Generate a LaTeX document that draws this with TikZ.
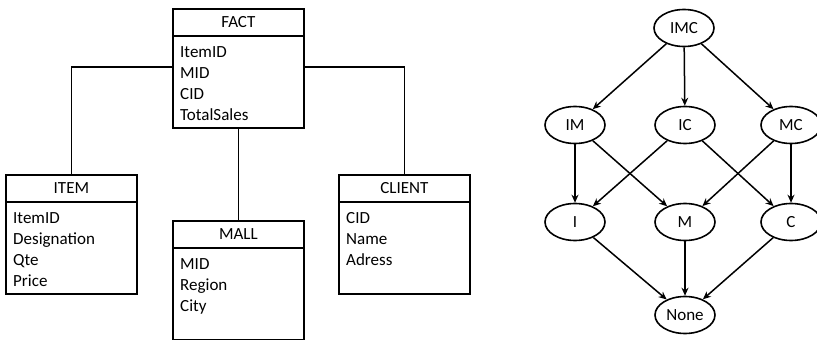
\documentclass[tikz,border=0pt]{standalone}
\usepackage{fontspec}
\setmainfont{Carlito}
\usetikzlibrary{positioning,arrows.meta,shapes}

\begin{document}
\begin{tikzpicture}
[x=1pt, y=-1pt, font=\fontsize{17}{21}\selectfont,
    >={Stealth[length=8pt,width=7pt]},
    table/.style={draw, line width=1.8pt, minimum width=131, minimum height=119,
    inner sep=0, anchor=north west},
    title/.style={inner sep=0, anchor=center},
    attrs/.style={inner sep=0, anchor=north west, align=left},
    state/.style={ellipse, draw, line width=1.6pt, minimum width=60,
    minimum height=37, inner sep=0},
    link/.style={line width=1.8pt},
    edge/.style={->, line width=1.5pt},
    ]
    \useasboundingbox (0,0) rectangle (817,340);

    % star schema
    \node[table] (fact) at (172,8) {};
    \node[table] (item) at (5,174) {};
    \node[table] (mall) at (172,220) {};
    \node[table] (client) at (338,174) {};

    \foreach \t/\name in {fact/FACT, item/ITEM, mall/MALL, client/CLIENT} {
        \draw[link] ([yshift=-28]\t.north west) -- ([yshift=-28]\t.north east);
        \node[title] (\t_title) at ([yshift=-14]\t.north) {\name};
    }

    \node[attrs] (fact_attrs) at ([xshift=8,yshift=-38]fact.north west) {ItemID\\MID\\CID\\TotalSales};
    \node[attrs] (item_attrs) at ([xshift=8,yshift=-38]item.north west) {ItemID\\Designation\\Qte\\Price};
    \node[attrs] (mall_attrs) at ([xshift=8,yshift=-38]mall.north west) {MID\\Region\\City};
    \node[attrs] (client_attrs) at ([xshift=8,yshift=-38]client.north west) {CID\\Name\\Adress};

    \draw[link] ([yshift=-59]fact.north west) -| (item.north);
    \draw[link] ([yshift=-59]fact.north east) -| (client.north);
    \draw[link] (fact.south) -- (mall.north);

    % lattice
    \node[state] (imc) at (684,28) {IMC};
    \node[state] (im) at (575,125) {IM};
    \node[state] (ic) at (685,125) {IC};
    \node[state] (mc) at (791,125) {MC};
    \node[state] (i) at (575,222) {I};
    \node[state] (m) at (685,222) {M};
    \node[state] (c) at (791,222) {C};
    \node[state] (none) at (685,315) {None};

    \draw[edge] (imc) -- (im);
    \draw[edge] (imc) -- (ic);
    \draw[edge] (imc) -- (mc);
    \draw[edge] (im) -- (i);
    \draw[edge] (im) -- (m);
    \draw[edge] (ic) -- (i);
    \draw[edge] (ic) -- (c);
    \draw[edge] (mc) -- (m);
    \draw[edge] (mc) -- (c);
    \draw[edge] (i) -- (none);
    \draw[edge] (m) -- (none);
    \draw[edge] (c) -- (none);

\end{tikzpicture}
\end{document}
